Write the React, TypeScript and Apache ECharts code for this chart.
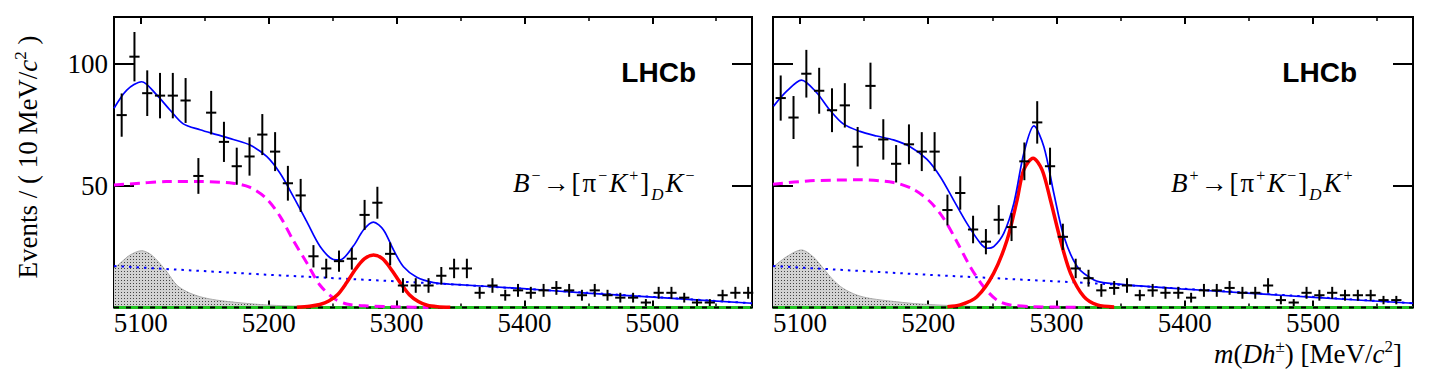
import React, { useEffect, useRef } from 'react';
import * as echarts from 'echarts';

// ---- data -----------------------------------------------------------------
const binCenters = [
  5085, 5095, 5105, 5115, 5125, 5135, 5145, 5155, 5165, 5175,
  5185, 5195, 5205, 5215, 5225, 5235, 5245, 5255, 5265, 5275,
  5285, 5295, 5305, 5315, 5325, 5335, 5345, 5355, 5365, 5375,
  5385, 5395, 5405, 5415, 5425, 5435, 5445, 5455, 5465, 5475,
  5485, 5495, 5505, 5515, 5525, 5535, 5545, 5555, 5565, 5575,
];
const countsBminus = [
  79, 103, 88, 87, 87, 85, 54, 80, 68, 58,
  62, 71, 64, 51, 46, 21, 16, 19, 20, 38,
  43, 22, 9, 9, 9, 13, 16, 16, 6, 9,
  5, 7, 6, 7, 8, 7, 5, 7, 5, 4,
  4, 2, 6, 6, 4, 2, 2, 5, 6, 6,
];
const countsBplus: (number | null)[] = [
  86, 78, 96, 89, 81, 83, 66, 91, 69, 59,
  67, 64, 64, 40, 47, 32, 27, 36, 33, 60,
  76, 58, 29, 16, 12, 7, 8, 9, 5, 7,
  6, 6, 4, 7, 7, 8, 6, 6, 9, 3,
  2, 6, 5, 6, 5, 5, 5, 3, 3, null,
];

const totalFitMinus: [number, number][] = [
  [5079, 81.8], [5089, 89.3], [5100.6, 92.7], [5112.4, 87.3], [5122.8, 81.1],
  [5133.2, 75.4], [5146.3, 73.0], [5159.3, 71.0], [5172.3, 69.0], [5185.4, 66.7],
  [5198.4, 62.0], [5208.9, 55.1], [5219.3, 45.5], [5229.7, 35.3], [5240.2, 25.0],
  [5250.6, 19.7], [5255.8, 19.5], [5266.3, 25.3], [5274.1, 31.8], [5281.9, 35.0],
  [5289.8, 31.8], [5297.6, 23.6], [5305.4, 16.7], [5315.8, 12.4], [5328.9, 10.2],
  [5341.4, 9.6], [5396.5, 7.8], [5448.6, 5.9], [5500.7, 4.2], [5578, 1.7],
];
const totalFitPlus: [number, number][] = [
  [5079.5, 82.7], [5089.5, 88.7], [5101.2, 93.4], [5112.9, 88.3], [5123.3, 81.1],
  [5133.8, 75.4], [5146.8, 72.3], [5159.8, 70.4], [5172.9, 68.8], [5185.9, 66.0],
  [5198.9, 60.9], [5209.4, 53.7], [5219.8, 44.1], [5230.2, 34.5], [5240.6, 26.4],
  [5245.9, 24.3], [5251.1, 25.0], [5258.9, 30.4], [5266.8, 42.8], [5274.6, 63.4],
  [5282.4, 74.6], [5290.2, 66.0], [5298.0, 46.8], [5305.8, 29.1], [5316.3, 16.7],
  [5329.3, 11.3], [5340, 10.0], [5397, 7.6], [5449, 5.9], [5501, 4.1], [5578, 1.7],
];
const combinatorial: [number, number][] = [
  [5079, 17.0], [5200, 13.4], [5340, 9.6], [5450, 6.0], [5578, 1.7],
];
const partRecoMinus: [number, number][] = [
  [5079, 50.3], [5099, 51.0], [5120, 51.7], [5146, 51.7], [5172, 51.0],
  [5185, 49.4], [5198, 44.8], [5209, 37.3], [5219, 27.7], [5230, 18.1],
  [5240, 9.2], [5251, 3.7], [5261, 1.4], [5277, 0.6], [5303, 0.2], [5325, 0],
];
const partRecoPlus: [number, number][] = [
  [5079, 50.6], [5108, 52.0], [5147, 52.4], [5173, 51.3], [5188.5, 48.5],
  [5201.5, 43.4], [5212, 36.6], [5222.4, 27.0], [5232.8, 16.7], [5243.2, 8.5],
  [5253.6, 3.0], [5264, 1.0], [5282, 0.3], [5320, 0],
];
const signalMinus: [number, number][] = [
  [5222, 0.1], [5232, 0.5], [5240, 1.2], [5247, 2.6], [5254, 5.3], [5261, 10.2],
  [5268, 15.8], [5275, 20.0], [5282, 21.5], [5289, 20.0], [5296, 15.5],
  [5303, 10.0], [5310, 5.2], [5317, 2.4], [5324, 0.9], [5332, 0.3], [5342, 0.05],
];
const signalPlus: [number, number][] = [
  [5215, 0.3], [5225, 1.0], [5238, 4.4], [5251, 14.0], [5261.5, 27.7],
  [5269.3, 44.1], [5274.5, 56.5], [5281.8, 61.3], [5288.8, 56.5], [5295.3, 44.1],
  [5303.1, 27.7], [5311, 14.0], [5321.4, 4.4], [5331.8, 1.0], [5345, 0.2],
];
const shadedMinus: [number, number][] = [
  [5079, 16.1], [5083.7, 18.1], [5091.5, 21.5], [5100.7, 23.3], [5107, 22.0],
  [5112.4, 19.5], [5120.2, 14.7], [5128, 9.2], [5135.8, 6.5], [5146.2, 4.4],
  [5159.3, 3.0], [5177.5, 1.9], [5198.4, 1.0], [5230, 0.4], [5260, 0.1], [5290, 0],
];
const shadedPlus: [number, number][] = [
  [5079, 16.5], [5089.5, 20.8], [5101.2, 23.6], [5110.3, 20.8], [5118.1, 16.1],
  [5125.9, 11.3], [5133.7, 7.8], [5144.2, 5.1], [5154.6, 3.7], [5175.5, 2.3],
  [5193.7, 1.4], [5230, 0.5], [5260, 0.1], [5290, 0],
];
const baseline: [number, number][] = [[5079, 0], [5578, 0]];

const xMajorTicks = [5100, 5200, 5300, 5400, 5500];
const xMinorTicks = [5150, 5250, 5350, 5450, 5550];
const yTicks = [50, 100];
const X_MIN = 5079;
const X_MAX = 5578;
const Y_MAX = 119.3;

const SERIF = 'Liberation Serif';

type Frag = [string, number, boolean, number];

export default function App() {
  const ref = useRef<HTMLDivElement>(null);

  useEffect(() => {
    const chart = echarts.init(ref.current!, null, { renderer: 'svg' });
    const mctx = document.createElement('canvas').getContext('2d')!;
    const measure = (t: string, size: number, italic: boolean) => {
      mctx.font = `${italic ? 'italic ' : ''}${size}px "${SERIF}"`;
      return mctx.measureText(t).width;
    };
    const fragGroup = (frags: Frag[], x: number, y: number, align: 'left' | 'right' | 'center', rotation = 0, gap = 0) => {
      const widths = frags.map((f) => measure(f[0], f[1], f[2]) + gap);
      const total = widths.reduce((a, b) => a + b, 0) - gap;
      let cx = align === 'left' ? 0 : align === 'right' ? -total : -total / 2;
      const children = frags.map((f, i) => {
        const el = {
          type: 'text',
          x: cx,
          y: f[3],
          style: {
            text: f[0],
            fontSize: f[1],
            fontStyle: f[2] ? 'italic' : 'normal',
            fontFamily: SERIF,
            fill: '#000',
            align: 'left',
            verticalAlign: 'middle',
          },
        };
        cx += widths[i];
        return el;
      });
      return { type: 'group', x, y, rotation, children };
    };

    // dotted texture for the shaded component
    const cv = document.createElement('canvas');
    cv.width = 3;
    cv.height = 3;
    const pctx = cv.getContext('2d')!;
    pctx.fillStyle = '#d2d2d2';
    pctx.fillRect(0, 0, 3, 3);
    pctx.fillStyle = '#444444';
    pctx.fillRect(1, 1, 1, 1);
    const texture: any = { image: cv, repeat: 'repeat' };

    const grids = [
      { left: 114, top: 17, width: 638, height: 290.4, show: true, borderColor: '#000', borderWidth: 2, backgroundColor: 'transparent' },
      { left: 773, top: 17, width: 640, height: 290.4, show: true, borderColor: '#000', borderWidth: 2, backgroundColor: 'transparent' },
    ];

    const plain = (v: number) => String(Math.round(v));

    const xAxes: any[] = [];
    const yAxes: any[] = [];
    [0, 1].forEach((g) => {
      const base = {
        gridIndex: g,
        type: 'value',
        min: X_MIN,
        max: X_MAX,
        axisLine: { show: false, onZero: false },
        splitLine: { show: false },
      };
      xAxes.push({
        ...base,
        position: 'bottom',
        axisTick: { inside: true, length: 7, customValues: xMajorTicks, lineStyle: { color: '#000', width: 2 } },
        axisLabel: { customValues: xMajorTicks, formatter: plain, fontSize: 27, fontFamily: SERIF, color: '#000', margin: 3, lineHeight: 26 },
      });
      xAxes.push({
        ...base,
        position: 'bottom',
        axisTick: { inside: true, length: 4, customValues: xMinorTicks, lineStyle: { color: '#000', width: 1.5 } },
        axisLabel: { show: false },
      });
      xAxes.push({
        ...base,
        position: 'top',
        axisTick: { inside: true, length: 7, customValues: xMajorTicks, lineStyle: { color: '#000', width: 2 } },
        axisLabel: { show: false },
      });
      xAxes.push({
        ...base,
        position: 'top',
        axisTick: { inside: true, length: 4, customValues: xMinorTicks, lineStyle: { color: '#000', width: 1.5 } },
        axisLabel: { show: false },
      });
      const ybase = {
        gridIndex: g,
        type: 'value',
        min: 0,
        max: Y_MAX,
        axisLine: { show: false, onZero: false },
        splitLine: { show: false },
        axisTick: { inside: true, length: 20, customValues: yTicks, lineStyle: { color: '#000', width: 2 } },
      };
      yAxes.push({
        ...ybase,
        position: 'left',
        axisLabel: g === 0
          ? { customValues: yTicks, formatter: plain, fontSize: 27, fontFamily: SERIF, color: '#000', margin: 6 }
          : { show: false },
      });
      yAxes.push({ ...ybase, position: 'right', axisLabel: { show: false } });
    });

    const lineSeries = (g: number, data: [number, number][], style: any, extra: any = {}) => ({
      type: 'line',
      xAxisIndex: g * 4,
      yAxisIndex: g * 2,
      data,
      showSymbol: false,
      symbol: 'none',
      lineStyle: style,
      ...extra,
    });

    const pointsSeries = (g: number, counts: (number | null)[]) => ({
      type: 'custom',
      xAxisIndex: g * 4,
      yAxisIndex: g * 2,
      z: 10,
      data: binCenters
        .map((x, i) => [x, counts[i]])
        .filter((d) => d[1] !== null),
      renderItem: (params: any, api: any) => {
        const x = api.value(0) as number;
        const y = api.value(1) as number;
        const e = Math.sqrt(y);
        const c = api.coord([x, y]);
        const t = api.coord([x, y + e]);
        const b = api.coord([x, Math.max(0, y - e)]);
        const l = api.coord([x - 4, y]);
        const r = api.coord([x + 4, y]);
        const st = { stroke: '#000', lineWidth: 2 };
        return {
          type: 'group',
          children: [
            { type: 'line', shape: { x1: c[0], y1: t[1], x2: c[0], y2: b[1] }, style: st },
            { type: 'line', shape: { x1: l[0], y1: c[1], x2: r[0], y2: c[1] }, style: st },
          ],
        };
      },
    });

    const panelSeries = (
      g: number,
      shaded: [number, number][],
      partReco: [number, number][],
      signal: [number, number][],
      total: [number, number][],
      counts: (number | null)[],
    ) => [
      lineSeries(g, shaded, { width: 0.8, color: '#9a9a9a' }, { smooth: 0.3, areaStyle: { color: texture, opacity: 1 }, z: 1 }),
      lineSeries(g, baseline, { width: 3, color: '#22c322' }, { clip: false, z: 2 }),
      lineSeries(g, baseline, { width: 2, color: '#000', type: [5, 7] }, { clip: false, z: 2 }),
      lineSeries(g, partReco, { width: 3, color: '#ff00ff', type: [10, 6] }, { smooth: 0.3, z: 3 }),
      lineSeries(g, combinatorial, { width: 2, color: '#0000ff', type: [2.5, 5] }, { z: 3 }),
      lineSeries(g, signal, { width: 3.5, color: '#ff0000' }, { smooth: 0.3, z: 4 }),
      lineSeries(g, total, { width: 1.7, color: '#0000ff' }, { smooth: 0.3, z: 5 }),
      pointsSeries(g, counts),
    ];

    const graphic: any[] = [
      {
        type: 'text', x: 696, y: 72,
        style: { text: 'LHCb', fontFamily: 'Liberation Sans', fontWeight: 'bold', fontSize: 28, fill: '#000', align: 'right', verticalAlign: 'middle' },
      },
      {
        type: 'text', x: 1357, y: 72,
        style: { text: 'LHCb', fontFamily: 'Liberation Sans', fontWeight: 'bold', fontSize: 28, fill: '#000', align: 'right', verticalAlign: 'middle' },
      },
      fragGroup([
        ['B', 27, true, 0], ['\u2212', 16, false, -8], ['\u2192', 27, false, 0], ['[', 27, false, 0],
        ['\u03c0', 27, false, 0], ['\u2212', 16, false, -8], ['K', 27, true, 0], ['+', 16, false, -8],
        [']', 27, false, 0], ['D', 17, true, 11], ['K', 27, true, 0], ['\u2212', 16, false, -8],
      ], 513, 183, 'left', 0, 2),
      fragGroup([
        ['B', 27, true, 0], ['+', 16, false, -8], ['\u2192', 27, false, 0], ['[', 27, false, 0],
        ['\u03c0', 27, false, 0], ['+', 16, false, -8], ['K', 27, true, 0], ['\u2212', 16, false, -8],
        [']', 27, false, 0], ['D', 17, true, 11], ['K', 27, true, 0], ['+', 16, false, -8],
      ], 1171, 183, 'left', 0, 2),
      fragGroup([
        ['Events / ( 10 MeV/', 27, false, 0], ['c', 27, true, 0], ['2', 17, false, -8], [' )', 27, false, 0],
      ], 28, 157, 'center', Math.PI / 2),
      fragGroup([
        ['m', 27, true, 0], ['(', 27, false, 0], ['Dh', 27, true, 0], ['\u00b1', 17, false, -8],
        [') [MeV/', 27, false, 0], ['c', 27, true, 0], ['2', 17, false, -8], [']', 27, false, 0],
      ], 1402, 354, 'right'),
    ];

    chart.setOption({
      animation: false,
      backgroundColor: '#fff',
      grid: grids,
      xAxis: xAxes,
      yAxis: yAxes,
      series: [
        ...panelSeries(0, shadedMinus, partRecoMinus, signalMinus, totalFitMinus, countsBminus),
        ...panelSeries(1, shadedPlus, partRecoPlus, signalPlus, totalFitPlus, countsBplus),
      ],
      graphic,
    });
    return () => chart.dispose();
  }, []);

  return (
    <div
      ref={ref}
      style={{ position: 'fixed', left: 0, top: 0, width: 1433, height: 371, background: '#fff' }}
    />
  );
}
